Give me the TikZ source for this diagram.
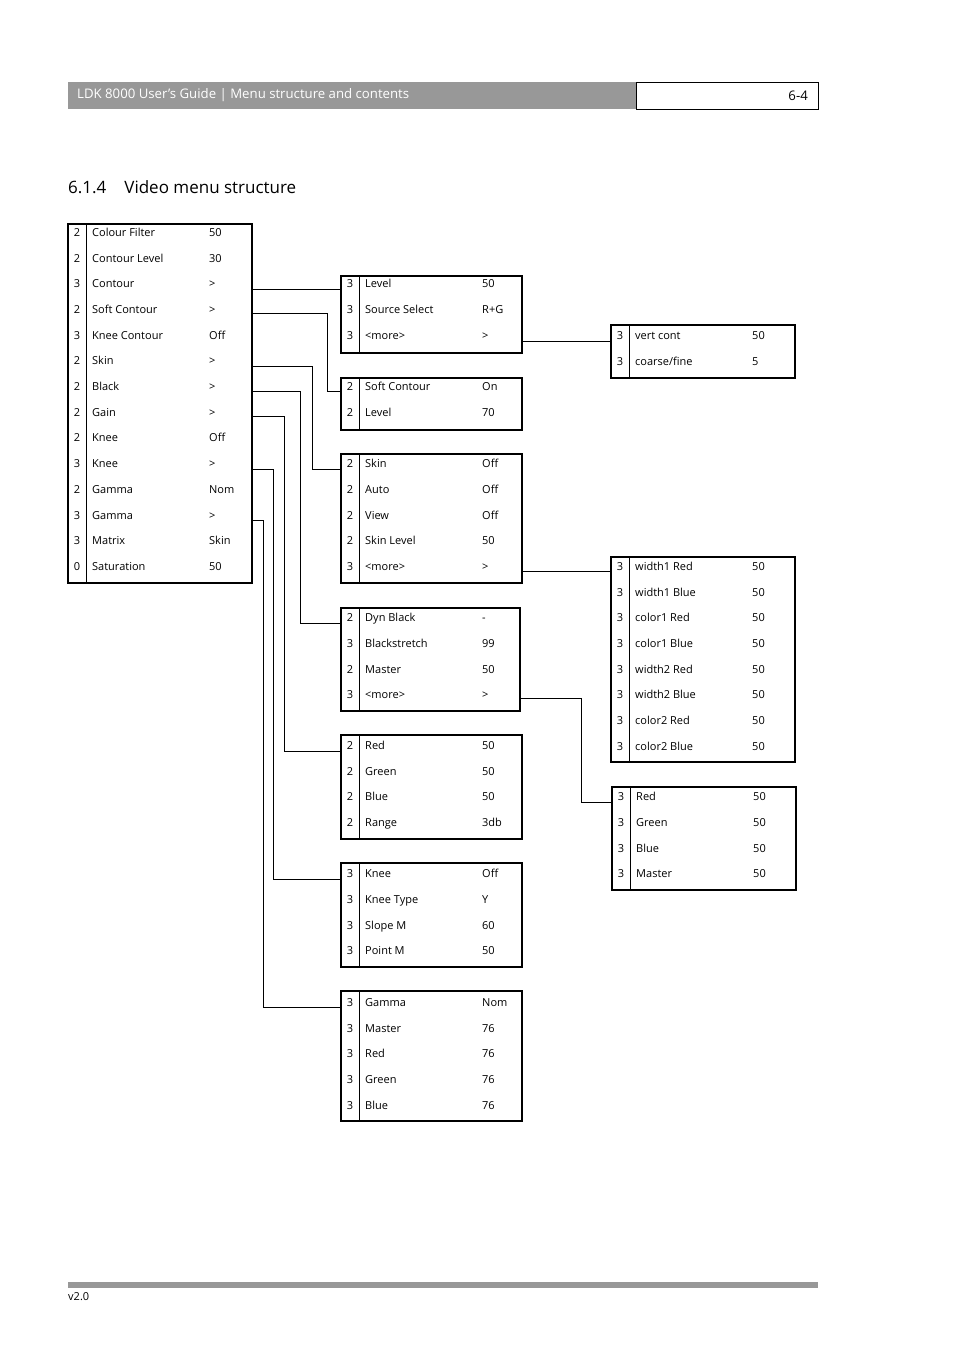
\documentclass[tikz,border=0pt]{standalone}
\usepackage{fontspec}
\setmainfont{Open Sans}
\begin{document}
\begin{tikzpicture}[x=1pt,y=-1pt,
  mbox/.style={draw,line width=1.8pt},
  txt/.style={inner sep=0pt,font=\fontsize{11}{13}\selectfont,text height=1.5ex,text depth=.25ex},
  conn/.style={line width=0.8pt}]
\useasboundingbox (0,0) rectangle (954,1351);
\newcommand\menubox[7]{%
  \draw[mbox] (#2,#4) rectangle (#3,#5);
  \draw[line width=0.8pt] (#2+18,#4) -- (#2+18,#5);
  \coordinate (#1) at (#2,#4);
  \foreach \l/\a/\b [count=\i from 0] in {#7} {
    \node[txt] at (#2+9,#6+25.7*\i) {\l};
    \node[txt,anchor=west] at (#2+24,#6+25.7*\i) {\a};
    \node[txt,anchor=west] at (#2+141,#6+25.7*\i) {\b};
  }}
% header
\fill[gray!85!black!70] (68,82) rectangle (636,109);
\node[anchor=west,text=white,inner sep=0pt,font=\fontsize{13.2}{15}\selectfont] (hd) at (77,95.5) {LDK 8000 User’s Guide | Menu structure and contents};
\draw[line width=0.7pt] (636,82) rectangle (818,109);
\node[anchor=east,inner sep=0pt,font=\fontsize{13.2}{15}\selectfont] (pg) at (808,95.5) {6-4};
\node[anchor=west,inner sep=0pt,font=\fontsize{17}{19}\selectfont] (ttl) at (68,187) {6.1.4\hspace{18pt}Video menu structure};
\fill[gray!85!black!70] (68,1282) rectangle (818,1288);
\node[anchor=west,inner sep=0pt,font=\fontsize{11}{13}\selectfont] (ver) at (68,1297) {v2.0};
% boxes
\menubox{main}{68}{252}{224}{583}{233}{2/Colour Filter/50,2/Contour Level/30,3/Contour/>,2/Soft Contour/>,3/Knee Contour/Off,2/Skin/>,2/Black/>,2/Gain/>,2/Knee/Off,3/Knee/>,2/Gamma/Nom,3/Gamma/>,3/Matrix/Skin,0/Saturation/50}
\menubox{b2}{341}{522}{276}{353}{284.5}{3/Level/50,3/Source Select/R+G,3/<more>/>}
\menubox{b3}{341}{522}{378}{430}{387.5}{2/Soft Contour/On,2/Level/70}
\menubox{b4}{341}{522}{454}{583}{464.5}{2/Skin/Off,2/Auto/Off,2/View/Off,2/Skin Level/50,3/<more>/>}
\menubox{b5}{341}{520}{608}{711}{618.5}{2/Dyn Black/-,3/Blackstretch/99,2/Master/50,3/<more>/>}
\menubox{b6}{341}{522}{735}{839}{746}{2/Red/50,2/Green/50,2/Blue/50,2/Range/3db}
\menubox{b7}{341}{522}{863}{967}{874.5}{3/Knee/Off,3/Knee Type/Y,3/Slope M/60,3/Point M/50}
\menubox{b8}{341}{522}{991}{1121}{1003}{3/Gamma/Nom,3/Master/76,3/Red/76,3/Green/76,3/Blue/76}
\menubox{r1}{611}{795}{325}{378}{336.5}{3/vert cont/50,3/{coarse/fine}/5}
\menubox{r2}{611}{795}{557}{762}{567}{3/width1 Red/50,3/width1 Blue/50,3/color1 Red/50,3/color1 Blue/50,3/width2 Red/50,3/width2 Blue/50,3/color2 Red/50,3/color2 Blue/50}
\menubox{r3}{612}{796}{787}{890}{797.5}{3/Red/50,3/Green/50,3/Blue/50,3/Master/50}
% connectors
\draw[conn] ([shift={(184,65)}]main) -- ([shift={(0,13)}]b2);
\draw[conn] ([shift={(184,89)}]main) -| ([shift={(-14,13)}]b3) -- ([shift={(0,13)}]b3);
\draw[conn] ([shift={(184,142)}]main) -| ([shift={(-29,15)}]b4) -- ([shift={(0,15)}]b4);
\draw[conn] ([shift={(184,167)}]main) -| ([shift={(-41,15)}]b5) -- ([shift={(0,15)}]b5);
\draw[conn] ([shift={(184,192)}]main) -| ([shift={(-57,16)}]b6) -- ([shift={(0,16)}]b6);
\draw[conn] ([shift={(184,245)}]main) -| ([shift={(-68,16)}]b7) -- ([shift={(0,16)}]b7);
\draw[conn] ([shift={(184,296)}]main) -| ([shift={(-78,16)}]b8) -- ([shift={(0,16)}]b8);
\draw[conn] ([shift={(181,65)}]b2) -- ([shift={(0,16)}]r1);
\draw[conn] ([shift={(181,117)}]b4) -- ([shift={(0,14)}]r2);
\draw[conn] ([shift={(179,90)}]b5) -| ([shift={(-31,15)}]r3) -- ([shift={(0,15)}]r3);
\end{tikzpicture}
\end{document}
